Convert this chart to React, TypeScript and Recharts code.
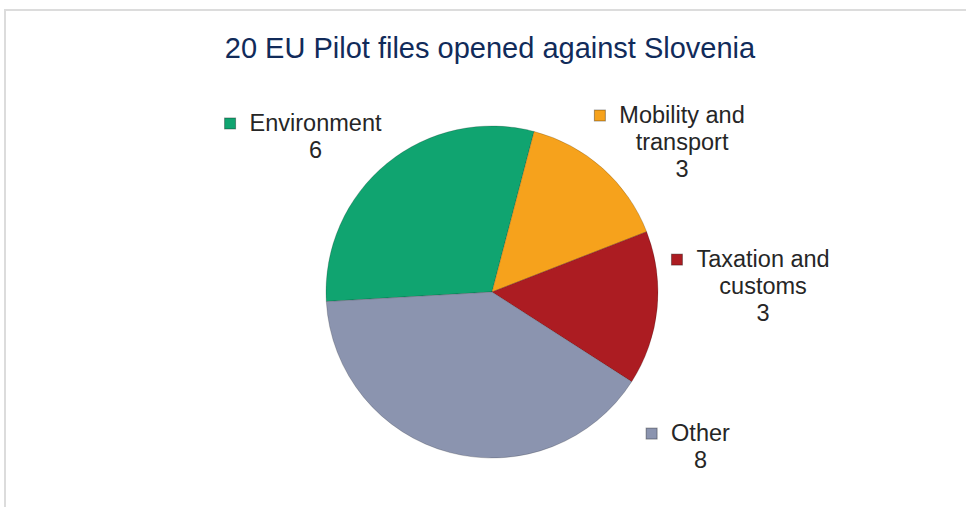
import React from 'react';
import { PieChart, Pie, Cell } from 'recharts';

// data
const categories = ['Environment', 'Mobility and transport', 'Taxation and customs', 'Other'];
const labelLines = [['Environment'], ['Mobility and', 'transport'], ['Taxation and', 'customs'], ['Other']];
const values = [6, 3, 3, 8];
const colors = ['#10a470', '#f6a21c', '#ac1c22', '#8b94af'];
const title = '20 EU Pilot files opened against Slovenia';

const data = categories.map((name, i) => ({ name, value: values[i], lines: labelLines[i] }));

// label anchors (text centre, first baseline) relative to pie centre, in units of the radius
const labelOffsets = [
  [-1.063, -0.97],
  [1.145, -1.018],
  [1.633, -0.15],
  [1.256, 0.898],
];

const FONT = '"Liberation Sans", Arial, sans-serif';
const LABEL_SIZE = 23.5;
const LINE_H = 27;

let ctx: CanvasRenderingContext2D | null = null;
const measure = (s: string) => {
  if (!ctx) ctx = document.createElement('canvas').getContext('2d');
  if (!ctx) return s.length * LABEL_SIZE * 0.5;
  ctx.font = `${LABEL_SIZE}px ${FONT}`;
  return ctx.measureText(s).width;
};

const renderLabel = (props: any) => {
  const { cx, cy, outerRadius, index } = props;
  const lines: string[] = data[index].lines;
  const [ox, oy] = labelOffsets[index];
  const x = cx + ox * outerRadius;
  const y = cy + oy * outerRadius;
  const w = measure(lines[0]);
  const left = x - w / 2;
  return (
    <g key={`lbl-${index}`}>
      <rect
        x={left - 25}
        y={y - 13}
        width={11}
        height={11}
        fill={colors[index]}
        stroke="rgba(0,0,0,0.35)"
        strokeWidth={1}
      />
      <text
        x={x}
        y={y}
        textAnchor="middle"
        fontFamily={FONT}
        fontSize={LABEL_SIZE}
        fill="#262626"
      >
        {lines.map((l, i) => (
          <tspan key={i} x={x} dy={i === 0 ? 0 : LINE_H}>{l}</tspan>
        ))}
        <tspan x={x} dy={LINE_H}>{values[index]}</tspan>
      </text>
    </g>
  );
};

export default function App() {
  return (
    <div style={{ position: 'absolute', left: 0, top: 0, width: 966, height: 507, overflow: 'hidden', background: '#fff' }}>
      <div
        style={{
          position: 'absolute',
          left: 4,
          top: 9,
          width: 1100,
          height: 600,
          border: '2px solid #dcdcdc',
        }}
      />
      <div
        style={{
          position: 'absolute',
          left: 0,
          top: 31,
          width: 980,
          textAlign: 'center',
          fontFamily: FONT,
          fontSize: 29,
          lineHeight: '34px',
          color: '#112b5a',
          whiteSpace: 'nowrap',
        }}
      >
        {title}
      </div>
      <div style={{ position: 'absolute', left: 0, top: 0 }}>
        <PieChart width={966} height={507} margin={{ top: 0, right: 0, bottom: 0, left: 0 }}>
          <Pie
            data={data}
            dataKey="value"
            nameKey="name"
            cx={492}
            cy={292}
            outerRadius={166}
            startAngle={183.3}
            endAngle={-176.7}
            stroke="rgba(0,0,0,0.18)"
            strokeWidth={1}
            label={renderLabel}
            labelLine={false}
            isAnimationActive={false}
          >
            {data.map((d, i) => (
              <Cell key={d.name} fill={colors[i]} />
            ))}
          </Pie>
        </PieChart>
      </div>
    </div>
  );
}
